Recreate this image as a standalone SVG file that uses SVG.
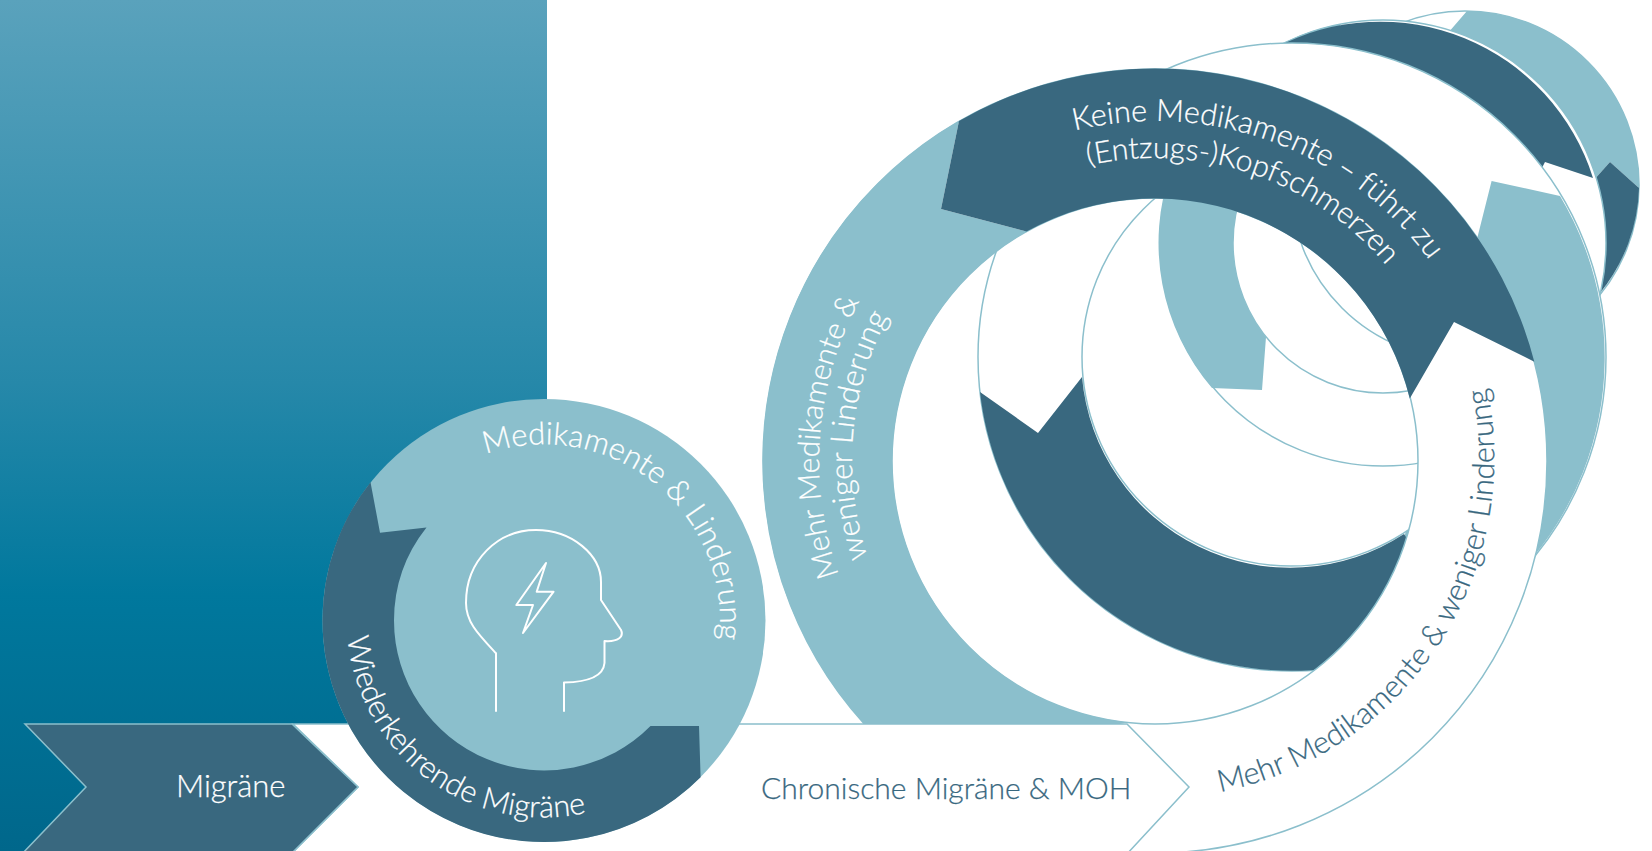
<svg xmlns="http://www.w3.org/2000/svg" width="1652" height="851" viewBox="0 0 1652 851">
<style>
.l{fill:#8bbfcc}
.d{fill:#39687f}
.ring{fill:#fff;fill-rule:evenodd;stroke:#8bbfcc;stroke-width:1.5}
.t{font-family:"Lato","Liberation Sans",sans-serif;font-size:30px;font-weight:300}
.w{fill:#fff;stroke:#fff;stroke-width:.25}
.b{fill:#39687f;stroke:#39687f;stroke-width:.25}
.ic{fill:none;stroke:#fff;stroke-width:2;stroke-linejoin:round}
</style>
<defs>
<linearGradient id="g" gradientUnits="userSpaceOnUse" x1="0" y1="0" x2="0" y2="851">
<stop offset="0" stop-color="#5aa2bc"/><stop offset="0.45" stop-color="#2688a9"/><stop offset="0.7" stop-color="#00789d"/><stop offset="1" stop-color="#00678b"/>
</linearGradient>
<path id="p1" d="M1074.5,130.6A340,340 0 0 1 1474.5,344.7"/>
<path id="p2" d="M1088.4,165.4A303,303 0 0 1 1439.7,357.4"/>
<path id="p3" d="M485.8,454.3A176,176 0 0 1 709.4,680.6"/>
<path id="p4" d="M347.7,637.6A197,197 0 0 0 642.5,791"/>
<path id="p5" d="M1220,792A340,340 0 0 0 1483.4,373"/>
<path id="p6" d="M839,574.8A336,336 0 0 1 917.4,223.4"/>
<path id="p7" d="M867.6,557.1A303,303 0 0 1 940.7,246.7"/>
</defs>
<rect width="1652" height="851" fill="#fff"/>
<path id="bg" fill="url(#g)" d="M0,0H547V724H25L86,787L25,851H0Z"/>

<g id="loop5">
<circle class="ring" cx="1465" cy="185" r="174"/>
<path class="l" d="M1467,11A174,174 0 0 1 1639,188L1610,162L1593,181L1448,33Z"/>
<path class="d" d="M1610,162L1639,188A174,174 0 0 1 1600,293L1593,181Z"/>
</g>
<g id="loop4">
<path class="ring" d="M1160,243a223,223 0 1 0 446,0a223,223 0 1 0 -446,0ZM1233,243a150,150 0 1 0 300,0a150,150 0 1 0 -300,0Z"/>
<path class="l" d="M1212,388L1262,390L1266,337A150,150 0 0 1 1345,98L1340,24A223,223 0 0 0 1212,388Z"/>
<path class="d" d="M1275,48A223,223 0 0 1 1593,178L1545,162L1500,250Z"/>
</g>
<g id="loop3">
<path class="ring" d="M978,357a314,314 0 1 0 628,0a314,314 0 1 0 -628,0ZM1082,357a209,209 0 1 0 418,0a209,209 0 1 0 -418,0Z"/>
<path class="l" d="M1560,196L1491.6,181L1473,255A209,209 0 0 1 1443,501L1480,608A314,314 0 0 0 1560,196Z"/>
<path class="l" d="M1400,544L1406.5,531L1409,531L1407,544Z"/>
<path class="d" d="M980,392L1038,433L1082,377A209,209 0 0 0 1404,534L1460,622A314,314 0 0 1 980,392Z"/>
</g>
<g id="loop2">
<path class="ring" d="M763,461a392,392 0 1 0 784,0a392,392 0 1 0 -784,0ZM892,461a263,263 0 1 0 526,0a263,263 0 1 0 -526,0Z"/>
<path class="l" d="M959,121L941,209L1026.5,231.6A263,263 0 0 0 1127,722.5L1120,724H864.3A392,392 0 0 1 959,121Z"/>
<path class="d" d="M959,121A392,392 0 0 1 1534.3,361.7L1454,322L1409.8,398.5A263,263 0 0 0 1026.5,231.6L941,209Z"/>
<text class="t w" style="font-size:30.6px"><textPath href="#p1">Keine Medikamente – führt zu</textPath></text>
<text class="t w" style="font-size:30.2px"><textPath href="#p2">(Entzugs-)Kopfschmerzen</textPath></text>
<text class="t w" style="font-size:30px"><textPath href="#p6">Mehr Medikamente &amp;</textPath></text>
<text class="t w" style="font-size:31px"><textPath href="#p7">weniger Linderung</textPath></text>
</g>
<g id="stage2">
<path fill="#fff" stroke="#8bbfcc" stroke-width="1.5" d="M293,724H1127L1189,787L1126,855H290L358,787Z"/>
<text class="t b" x="761" y="799">Chronische Migräne &amp; MOH</text>
</g>
<g id="ring-lower"><text class="t b" style="font-size:30.5px"><textPath href="#p5">Mehr Medikamente &amp; weniger Linderung</textPath></text></g>
<g id="stage1">
<path fill="#39687f" stroke="#8bbfcc" stroke-width="1.5" d="M25,724H292L358,787L290,855H21L86,787Z"/>
<text class="t w" x="176" y="797" style="font-size:31px">Migräne</text>
</g>
<g id="loop1">
<circle class="l" cx="544" cy="620.4" r="221.5"/>
<path class="d" d="M370.5,482.2L380,532.7L426.5,527.4A150,150 0 0 0 394,620.4A150,150 0 0 0 650.5,726L699,726L700.6,777.2A221.5,221.5 0 0 1 322.5,620.4A221.5,221.5 0 0 1 370.5,482.2Z"/>
<path class="ic" d="M496,711.7V653.3C478,634 466,622 466,603C466,560 498,530 536,530C572,530 601,555 601,582V600L621,630C624,637 618,642 604.5,641V663C603.5,675 590,682 564,682.5V711.7"/>
<path class="ic" d="M546,563L516.3,605H533L523,633L553.6,591.7H536.7Z"/>
<text class="t w" style="font-size:31px"><textPath href="#p3">Medikamente &amp; Linderung</textPath></text>
<text class="t w" style="font-size:30.5px"><textPath href="#p4">Wiederkehrende Migräne</textPath></text>
</g>
</svg>
